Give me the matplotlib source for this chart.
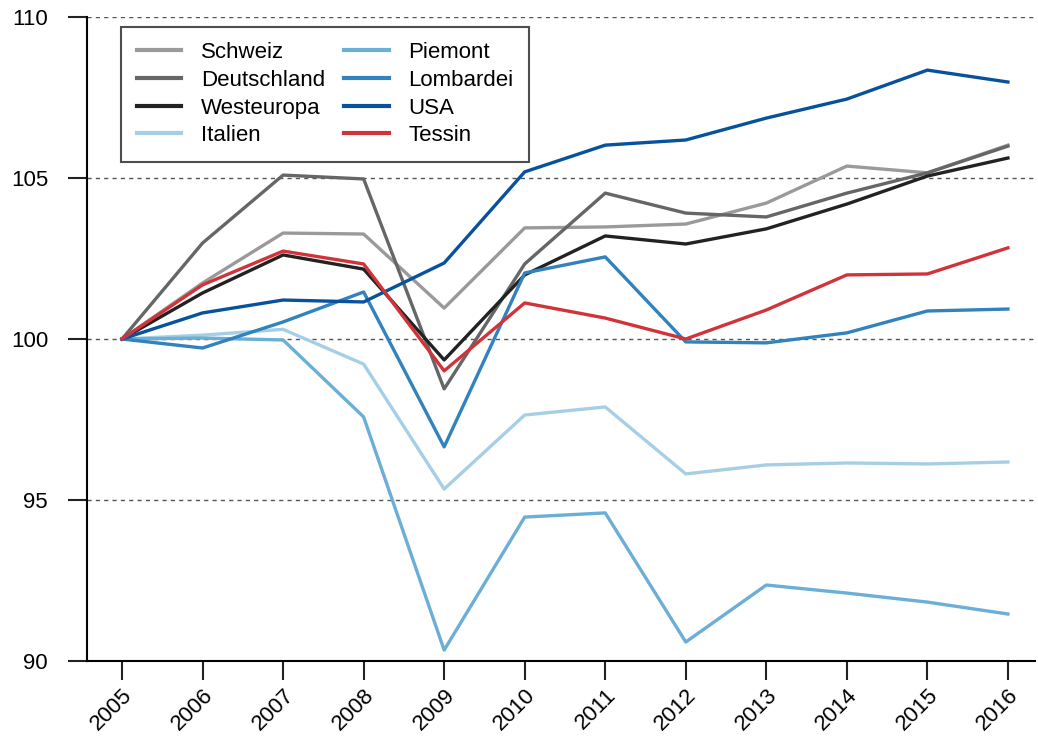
import matplotlib.pyplot as plt

years = list(range(2005, 2017))

schweiz = [100, 101.74, 103.29, 103.26, 100.96, 103.45, 103.48, 103.57, 104.22, 105.37, 105.16, 106.02]
deutschland = [100, 102.98, 105.09, 104.97, 98.45, 102.33, 104.53, 103.91, 103.79, 104.53, 105.16, 105.99]
westeuropa = [100, 101.43, 102.61, 102.17, 99.35, 101.99, 103.20, 102.95, 103.42, 104.19, 105.06, 105.62]
italien = [100, 100.12, 100.30, 99.22, 95.34, 97.64, 97.89, 95.81, 96.09, 96.15, 96.12, 96.18]
piemont = [100, 100.03, 99.97, 97.58, 90.34, 94.47, 94.60, 90.59, 92.36, 92.11, 91.83, 91.46]
lombardei = [100, 99.72, 100.53, 101.46, 96.65, 102.05, 102.55, 99.91, 99.88, 100.19, 100.87, 100.93]
usa = [100, 100.81, 101.21, 101.15, 102.36, 105.19, 106.02, 106.18, 106.86, 107.45, 108.35, 107.98]
tessin = [100, 101.68, 102.73, 102.33, 99.01, 101.12, 100.65, 100.00, 100.90, 101.99, 102.02, 102.83]

plt.rcParams['font.family'] = ['Liberation Sans', 'DejaVu Sans']

fig = plt.figure(figsize=(10.38, 7.38), dpi=100)
ax = fig.add_axes([0.0838, 0.1043, 0.9132, 0.8727])

ax.plot(years, schweiz, color='#9a9a9a', lw=2.4, label='Schweiz')
ax.plot(years, deutschland, color='#666666', lw=2.4, label='Deutschland')
ax.plot(years, westeuropa, color='#222222', lw=2.4, label='Westeuropa')
ax.plot(years, italien, color='#a6cfe6', lw=2.4, label='Italien')
ax.plot(years, piemont, color='#6baed6', lw=2.4, label='Piemont')
ax.plot(years, lombardei, color='#3182bd', lw=2.4, label='Lombardei')
ax.plot(years, usa, color='#08519c', lw=2.4, label='USA')
ax.plot(years, tessin, color='#d0343a', lw=2.4, label='Tessin')

ax.set_ylim(90, 110)
ax.set_xlim(2004.565, 2016.335)
ax.set_yticks([90, 95, 100, 105, 110])
ax.set_xticks(years)
ax.set_xticklabels([str(y) for y in years], rotation=45, ha='right', rotation_mode='anchor')
for y in [95, 100, 105, 110]:
    ax.axhline(y, color='#555555', lw=1, ls=(0, (3, 3)), zorder=0)

ax.spines['top'].set_visible(False)
ax.spines['right'].set_visible(False)
ax.spines['left'].set_linewidth(1.5)
ax.spines['bottom'].set_linewidth(1.5)
ax.tick_params(axis='both', length=14, width=1.5, labelsize=16, color='#222222')
ax.tick_params(axis='y', pad=14)
ax.tick_params(axis='x', pad=3)

leg = ax.legend(ncol=2, loc='upper left', bbox_to_anchor=(0.036, 0.985), fontsize=16,
                frameon=True, fancybox=False, edgecolor='#222222', borderaxespad=0,
                handlelength=2.0, handletextpad=0.9, columnspacing=0.85,
                labelspacing=0.3, borderpad=0.7)
leg.get_frame().set_linewidth(1.5)
for line in leg.get_lines():
    line.set_linewidth(3)

fig.savefig('out.png', dpi=100)
